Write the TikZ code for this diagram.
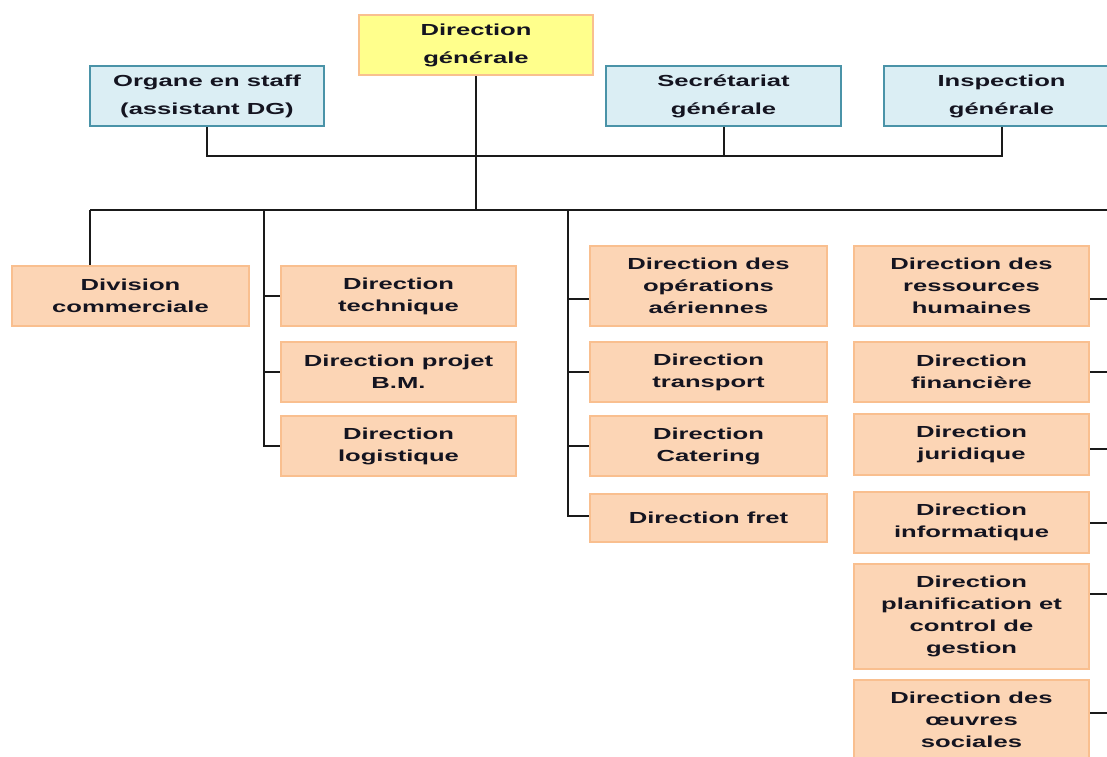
\documentclass[tikz,border=0pt]{standalone}
\usepackage{fontspec}
\setmainfont[FakeStretch=1.6]{Liberation Sans}
\definecolor{salfill}{HTML}{FCD5B5}
\definecolor{saldraw}{HTML}{F9BF8F}
\definecolor{blufill}{HTML}{DBEEF4}
\definecolor{bludraw}{HTML}{4A93A8}
\definecolor{yelfill}{HTML}{FFFF8C}
\definecolor{yeldraw}{HTML}{F9C08F}
\definecolor{txt}{HTML}{141420}
\definecolor{ln}{HTML}{1A1A1A}
\tikzset{
  base/.style={rectangle, align=center, inner sep=0pt, line width=2pt, text=txt,
    font=\bfseries\fontsize{16}{22}\selectfont},
  topbox/.style={base, font=\bfseries\fontsize{16}{28}\selectfont, minimum width=234pt, minimum height=60pt},
  yel/.style={topbox, fill=yelfill, draw=yeldraw},
  blu/.style={topbox, fill=blufill, draw=bludraw},
  sal/.style={base, fill=salfill, draw=saldraw, minimum width=235pt, minimum height=60pt},
  conn/.style={draw=ln, line width=2pt},
}
\begin{document}
\begin{tikzpicture}[x=1pt,y=-1pt]
\useasboundingbox (0,0) rectangle (1107,756);
\clip (0,0) rectangle (1107,756);
% top level
\node[yel] (dg) at (476,45) {Direction\\générale};
\node[blu] (org) at (207,96) {Organe en staff\\(assistant DG)};
\node[blu, minimum width=235pt] (sec) at (723.5,96) {Secrétariat\\générale};
\node[blu, minimum width=235pt] (insp) at (1001.5,96) {Inspection\\générale};
% column 1
\node[sal, minimum width=237pt] (div) at (130.5,296) {Division\\commerciale};
% column 2
\node[sal] (tech) at (398.5,296) {Direction\\technique};
\node[sal] (proj) at (398.5,372) {Direction projet\\B.M.};
\node[sal] (logi) at (398.5,446) {Direction\\logistique};
% column 3
\node[sal, minimum width=237pt, minimum height=80pt] (ops) at (708.5,286) {Direction des\\opérations\\aériennes};
\node[sal, minimum width=237pt] (trans) at (708.5,372) {Direction\\transport};
\node[sal, minimum width=237pt] (cat) at (708.5,446) {Direction\\Catering};
\node[sal, minimum width=237pt, minimum height=48pt] (fret) at (708.5,518) {Direction fret};
% column 4
\node[sal, minimum height=80pt] (rh) at (971.5,286) {Direction des\\ressources\\humaines};
\node[sal] (fin) at (971.5,372) {Direction\\financière};
\node[sal, minimum height=61pt] (jur) at (971.5,444.5) {Direction\\juridique};
\node[sal, minimum height=61pt] (info) at (971.5,522.5) {Direction\\informatique};
\node[sal, minimum height=105pt] (plan) at (971.5,616.5) {Direction\\planification et\\control de\\gestion};
\node[sal, minimum height=80pt] (oeu) at (971.5,720) {Direction des\\œuvres\\sociales};
% connectors
\coordinate (sb) at (0,156);
\coordinate (bus) at (0,210);
\coordinate (d1) at (90,210);
\coordinate (c2) at (264,210);
\coordinate (c3) at (568,210);
\coordinate (c4) at (1125,210);
\draw[conn] (org.south) -- (org.south |- sb) -- (insp.south |- sb) -- (insp.south);
\draw[conn] (sec.south) -- (sec.south |- sb);
\draw[conn] (dg.south) -- (dg.south |- bus);
\draw[conn] (d1) -- (c4);
\draw[conn] (d1) -- (d1 |- div.north);
\draw[conn] (c2) |- (logi.west);
\draw[conn] (c2 |- tech.west) -- (tech.west);
\draw[conn] (c2 |- proj.west) -- (proj.west);
\draw[conn] (c3) |- ([yshift=2pt]fret.west);
\draw[conn] (c3 |- ops.west) ++(0,13) -- ([yshift=-13pt]ops.west);
\draw[conn] (c3 |- trans.west) -- (trans.west);
\draw[conn] (c3 |- cat.west) -- (cat.west);
\draw[conn] (c4) |- ([yshift=-13pt]rh.east);
\draw[conn] (fin.east) -- (fin.east -| c4);
\draw[conn] ([yshift=-4.5pt]jur.east) -- ([yshift=-4.5pt]jur.east -| c4);
\draw[conn] (info.east) -- (info.east -| c4);
\draw[conn] ([yshift=22.5pt]plan.east) -- ([yshift=22.5pt]plan.east -| c4);
\draw[conn] ([yshift=7pt]oeu.east) -- ([yshift=7pt]oeu.east -| c4);
\end{tikzpicture}
\end{document}
